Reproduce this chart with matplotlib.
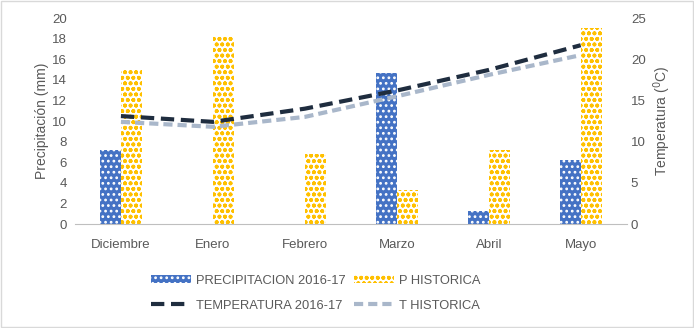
import matplotlib.pyplot as plt
import numpy as np
from matplotlib.patches import Rectangle

plt.rcParams['font.family'] = ['Liberation Sans', 'DejaVu Sans']
plt.rcParams['hatch.linewidth'] = 1.2

meses = ['Diciembre', 'Enero', 'Febrero', 'Marzo', 'Abril', 'Mayo']
precip = [7.2, 0, 0, 14.7, 1.3, 6.2]          # PRECIPITACION 2016-17 (mm)
p_hist = [15.0, 18.3, 6.8, 3.3, 7.2, 19.0]    # P HISTORICA (mm)
temp = [13.1, 12.4, 14.0, 16.2, 18.7, 21.7]   # TEMPERATURA 2016-17 (C)
t_hist = [12.4, 11.8, 13.0, 15.5, 18.1, 20.5] # T HISTORICA (C)

gris = '#595959'
azul = '#4472C4'
amarillo = '#FFC000'

fig = plt.figure(figsize=(6.94, 3.28), dpi=100)
fig.patches.append(Rectangle((0.002, 0.003), 0.996, 0.994, transform=fig.transFigure,
                             fill=False, edgecolor='#D9D9D9', lw=1))
ax = fig.add_axes([0.108, 0.317, 0.795, 0.628])
x = np.arange(len(meses))
w = 0.23

# barras (si el valor es 0 no se ve nada)
b1 = ax.bar(x - w/2, precip, w, color=azul, edgecolor='white', lw=0, hatch='...',
            label='PRECIPITACION 2016-17')
b2 = ax.bar(x + w/2, p_hist, w, color='white', edgecolor=amarillo, lw=0, hatch='ooo',
            label='P HISTORICA')

ax.set_xlim(-0.5, 5.5)
ax.set_ylim(0, 20)
ax.set_yticks(range(0, 21, 2))
ax.set_xticks(x)
ax.set_xticklabels(meses)
for s in ['top', 'right', 'left']:
    ax.spines[s].set_visible(False)
ax.spines['bottom'].set_color('#BFBFBF')
ax.tick_params(length=0, colors=gris, labelsize=9.5)
ax.tick_params(axis='x', pad=11)
ax.tick_params(axis='y', pad=6)
ax.set_ylabel('Precipitación (mm)', color=gris, fontsize=10, labelpad=2)

ax2 = ax.twinx()
l1, = ax2.plot(x, temp, color='#1F2D3F', lw=3, dashes=(3.2, 1.6), label='TEMPERATURA 2016-17')
l2, = ax2.plot(x, t_hist, color='#A9B7CA', lw=3, dashes=(2.2, 1.2), label='T HISTORICA')
ax2.set_ylim(0, 25)
ax2.set_yticks(range(0, 26, 5))
for s in ax2.spines.values():
    s.set_visible(False)
ax2.tick_params(length=0, colors=gris, labelsize=9.5, pad=3)
ax2.set_ylabel('Temperatura ($^{0}$C)', color=gris, fontsize=10, labelpad=4)

leg = fig.legend([b1, l1, b2, l2],
                 ['PRECIPITACION 2016-17', 'TEMPERATURA 2016-17', 'P HISTORICA', 'T HISTORICA'],
                 ncol=2, loc='upper center', bbox_to_anchor=(0.455, 0.182), frameon=False,
                 fontsize=9.3, handlelength=3.1, handleheight=0.6, columnspacing=0.6,
                 handletextpad=0.4, labelspacing=1.0, borderpad=0)
for t in leg.get_texts():
    t.set_color(gris)

fig.savefig('out.png', dpi=100)
